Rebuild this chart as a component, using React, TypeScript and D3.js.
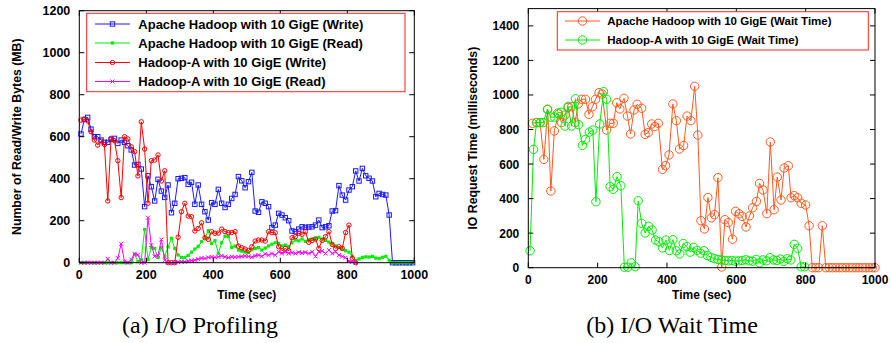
import React from 'react';
import * as d3 from 'd3';

// ---------- Data: (a) I/O Profiling ----------
const profTimes = [5,15,25,35,45,55,65,75,85,95,105,115,125,135,145,155,165,175,185,195,205,215,225,235,245,255,265,275,285,295,305,315,325,335,345,355,365,375,385,395,405,415,425,435,445,455,465,475,485,495,505,515,525,535,545,555,565,575,585,595,605,615,625,635,645,655,665,675,685,695,705,715,725,735,745,755,765,775,785,795,805,815,825,835,845,855,865,875,885,895,905,915,925,935,945,955,965,975,985,995];
const apacheWrite = [613,682,692,636,600,600,584,573,573,587,592,568,584,573,557,537,465,468,446,267,414,362,294,397,341,311,370,238,283,400,402,405,373,383,278,370,278,243,203,286,278,349,283,263,278,306,325,410,390,357,386,430,246,240,290,283,267,167,179,235,227,214,200,151,148,160,171,168,170,171,179,203,167,171,176,246,248,367,322,298,346,362,437,389,449,414,402,389,314,330,325,322,227,0,0,0,0,0,0,0];
const apacheRead = [0,0,0,0,0,0,0,0,0,0,0,0,0,0,0,0,40,5,15,158,15,72,68,25,72,30,75,116,68,37,25,25,35,50,65,78,100,119,152,92,105,45,95,126,124,73,79,60,55,50,48,62,68,72,60,70,80,88,95,92,80,84,76,95,108,104,113,102,110,113,116,121,112,106,98,90,80,72,63,57,50,30,12,18,25,28,27,30,22,20,26,30,12,0,0,0,0,0,0,0];
const hadoopAWrite = [679,684,675,624,584,560,579,563,294,592,581,486,310,600,589,552,529,413,671,541,283,486,489,513,389,438,0,0,0,121,243,283,222,219,151,163,190,119,111,148,140,141,160,148,143,144,148,79,71,65,58,76,103,108,108,103,148,143,143,76,57,68,57,119,124,140,135,148,97,106,113,68,106,124,148,87,68,76,68,144,179,21,0];
const hadoopARead = [0,0,0,0,0,0,0,0,18,0,0,22,90,5,0,15,42,38,0,0,214,84,30,35,110,12,0,0,0,3,5,5,8,10,12,17,22,20,25,27,25,28,33,28,24,28,26,28,30,32,30,26,33,36,30,42,36,44,36,52,44,52,44,48,44,50,46,50,44,52,30,52,56,44,60,44,52,36,30,24,8,4,0];
const profXTicks = [0,200,400,600,800,1000];
const profYTicks = [0,200,400,600,800,1000,1200];

// ---------- Data: (b) I/O Wait Time ----------
const apacheWait: [number, number][] = [[12,836],[24,840],[34,840],[45,627],[56,917],[65,444],[75,792],[87,890],[96,840],[106,884],[115,928],[125,932],[135,840],[144,948],[154,975],[165,975],[175,888],[185,932],[194,975],[204,1013],[213,1005],[226,797],[236,836],[245,836],[255,955],[264,919],[276,981],[286,878],[295,774],[305,913],[314,946],[327,923],[337,772],[346,782],[356,832],[365,817],[375,836],[387,569],[396,591],[406,653],[417,948],[427,851],[436,687],[448,707],[458,878],[469,851],[480,1050],[489,768],[498,272],[508,224],[518,406],[528,289],[537,307],[547,521],[558,4],[567,278],[577,261],[589,165],[598,326],[608,312],[617,297],[628,236],[638,300],[647,347],[658,384],[667,488],[677,450],[688,313],[698,728],[709,336],[718,525],[729,392],[738,577],[750,590],[758,405],[767,417],[777,405],[787,373],[800,363],[810,243],[819,0],[829,0],[838,0],[848,243],[858,0],[868,0],[877,0],[887,0],[897,0],[906,0],[916,0],[926,0],[935,0],[945,0],[954,0],[964,0],[973,0],[983,0],[992,0],[1000,0]];
const hadoopAWait: [number, number][] = [[5,98],[15,685],[24,840],[34,840],[43,840],[55,917],[65,872],[75,872],[85,896],[95,900],[106,820],[115,934],[125,820],[136,978],[145,828],[156,708],[165,743],[176,785],[186,797],[195,382],[206,832],[217,1019],[226,975],[236,469],[245,454],[256,527],[267,474],[277,3],[287,3],[297,28],[308,6],[317,387],[327,257],[337,201],[347,240],[357,218],[367,160],[377,150],[387,115],[397,160],[407,100],[417,162],[427,98],[437,80],[447,140],[457,122],[467,90],[477,118],[487,100],[497,84],[507,98],[517,70],[527,60],[537,52],[547,48],[557,45],[567,42],[577,40],[587,42],[597,38],[607,40],[617,42],[627,46],[637,40],[647,38],[657,48],[667,28],[677,45],[687,40],[697,58],[707,45],[717,42],[727,50],[737,36],[747,52],[757,45],[767,135],[777,112],[787,5],[797,5]];
const waitXTicks = [0,200,400,600,800,1000];
const waitYTicks = [0,200,400,600,800,1000,1200,1400];

const FONT = '"Liberation Sans", Arial, Helvetica, sans-serif';

type MarkerType = 'square' | 'fsquare' | 'circle' | 'cross' | 'bigcircle';

function Marker({ type, x, y, color }: { type: MarkerType; x: number; y: number; color: string }) {
  if (type === 'square') return <rect x={x - 2.2} y={y - 2.2} width={4.4} height={4.4} fill="none" stroke={color} strokeWidth={1} />;
  if (type === 'fsquare') return <rect x={x - 1.6} y={y - 1.6} width={3.2} height={3.2} fill={color} stroke="none" />;
  if (type === 'circle') return <circle cx={x} cy={y} r={2.2} fill="none" stroke={color} strokeWidth={1} />;
  if (type === 'bigcircle') return <circle cx={x} cy={y} r={4.2} fill="none" stroke={color} strokeWidth={1} />;
  return (
    <g stroke={color} strokeWidth={1}>
      <line x1={x - 2} y1={y - 2} x2={x + 2} y2={y + 2} />
      <line x1={x - 2} y1={y + 2} x2={x + 2} y2={y - 2} />
    </g>
  );
}

interface Series { name: string; points: [number, number][]; color: string; marker: MarkerType }

function Panel(props: {
  left: number; right: number; top: number; bottom: number;
  xMax: number; yMax: number; xTicks: number[]; yTicks: number[];
  series: Series[]; yTitle: string; yTitleX: number;
  legend: { x0: number; x1: number; y0: number; y1: number; rows: number[]; lineX0: number; lineX1: number; textX: number; fontSize: number };
  tickFont: number;
}) {
  const { left, right, top, bottom, xMax, yMax, xTicks, yTicks, series, legend, tickFont } = props;
  const x = d3.scaleLinear().domain([0, xMax]).range([left, right]);
  const y = d3.scaleLinear().domain([0, yMax]).range([bottom, top]);
  const line = d3.line<[number, number]>().x(d => x(d[0])).y(d => y(d[1]));
  const tl = 5;
  return (
    <g>
      {series.map((s, i) => (
        <g key={i}>
          <path d={line(s.points) || ''} fill="none" stroke={s.color} strokeWidth={1} />
          {s.points.map((p, j) => <Marker key={j} type={s.marker} x={x(p[0])} y={y(p[1])} color={s.color} />)}
        </g>
      ))}
      <rect x={left} y={top} width={right - left} height={bottom - top} fill="none" stroke="#000" strokeWidth={1} />
      {xTicks.map(t => (
        <g key={'x' + t}>
          <line x1={x(t)} x2={x(t)} y1={bottom} y2={bottom - tl} stroke="#000" />
          <line x1={x(t)} x2={x(t)} y1={top} y2={top + tl} stroke="#000" />
          <text x={x(t)} y={bottom + 16} textAnchor="middle" fontFamily={FONT} fontWeight="bold" fontSize={tickFont}>{t}</text>
        </g>
      ))}
      {yTicks.map(t => (
        <g key={'y' + t}>
          <line x1={left} x2={left + tl} y1={y(t)} y2={y(t)} stroke="#000" />
          <line x1={right} x2={right - tl} y1={y(t)} y2={y(t)} stroke="#000" />
          <text x={left - 9} y={y(t) + 4.5} textAnchor="end" fontFamily={FONT} fontWeight="bold" fontSize={tickFont}>{t}</text>
        </g>
      ))}
      <text x={(left + right) / 2} y={299} textAnchor="middle" fontFamily={FONT} fontWeight="bold" fontSize={12}>Time (sec)</text>
      <text transform={`translate(${props.yTitleX},${(top + bottom) / 2}) rotate(-90)`} textAnchor="middle" dominantBaseline="central" fontFamily={FONT} fontWeight="bold" fontSize={12.3}>{props.yTitle}</text>
      <rect x={legend.x0} y={legend.y0} width={legend.x1 - legend.x0} height={legend.y1 - legend.y0} fill="#fff" stroke="#ff2020" strokeWidth={1} />
      {series.map((s, i) => (
        <g key={'l' + i}>
          <line x1={legend.lineX0} x2={legend.lineX1} y1={legend.rows[i]} y2={legend.rows[i]} stroke={s.color} strokeWidth={1} />
          <Marker type={s.marker} x={(legend.lineX0 + legend.lineX1) / 2} y={legend.rows[i]} color={s.color} />
          <text x={legend.textX} y={legend.rows[i] + legend.fontSize * 0.36} fontFamily={FONT} fontWeight="bold" fontSize={legend.fontSize}>{s.name}</text>
        </g>
      ))}
    </g>
  );
}

export default function App() {
  const zip = (ts: number[], vs: number[]) => vs.map((v, i) => [ts[i], v] as [number, number]);
  const profSeries: Series[] = [
    { name: 'Apache Hadoop with 10 GigE (Write)', points: zip(profTimes, apacheWrite), color: '#1a1aff', marker: 'square' },
    { name: 'Apache Hadoop with 10 GigE (Read)', points: zip(profTimes, apacheRead), color: '#00ee00', marker: 'fsquare' },
    { name: 'Hadoop-A with 10 GigE (Write)', points: zip(profTimes, hadoopAWrite), color: '#ff0000', marker: 'circle' },
    { name: 'Hadoop-A with 10 GigE (Read)', points: zip(profTimes, hadoopARead), color: '#ff00ff', marker: 'cross' },
  ];
  const waitSeries: Series[] = [
    { name: 'Apache Hadoop with 10 GigE (Wait Time)', points: apacheWait, color: '#ff5a1e', marker: 'bigcircle' },
    { name: 'Hadoop-A with 10 GigE (Wait Time)', points: hadoopAWait, color: '#00ee00', marker: 'bigcircle' },
  ];
  const serif = '"Liberation Serif", "Times New Roman", serif';
  return (
    <div style={{ position: 'absolute', left: 0, top: 0 }}>
      <svg width={891} height={343} style={{ display: 'block', background: '#fff' }}>
        <Panel left={79.3} right={414.3} top={10.7} bottom={262.7} xMax={1000} yMax={1200}
          xTicks={profXTicks} yTicks={profYTicks} series={profSeries}
          yTitle="Number of Read/Write Bytes (MB)" yTitleX={16.7} tickFont={12.5}
          legend={{ x0: 86.7, x1: 405, y0: 13.3, y1: 91.7, rows: [24, 43, 62.5, 81.5], lineX0: 95, lineX1: 130, textX: 138.3, fontSize: 13 }} />
        <Panel left={528.3} right={875} top={8.6} bottom={267.7} xMax={1000} yMax={1500}
          xTicks={waitXTicks} yTicks={waitYTicks} series={waitSeries}
          yTitle="IO Request Time (milliseconds)" yTitleX={473} tickFont={12}
          legend={{ x0: 557.3, x1: 868.3, y0: 11.7, y1: 50, rows: [21, 40], lineX0: 565, lineX1: 600, textX: 607.3, fontSize: 11.5 }} />
        <text x={200} y={333} textAnchor="middle" fontFamily={serif} fontSize={24}>(a) I/O Profiling</text>
        <text x={672} y={333} textAnchor="middle" fontFamily={serif} fontSize={24}>(b) I/O Wait Time</text>
      </svg>
    </div>
  );
}
